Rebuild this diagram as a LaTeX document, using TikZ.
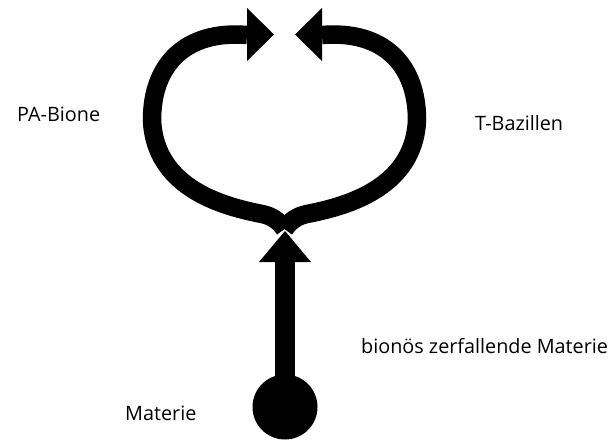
\documentclass[tikz,border=0pt]{standalone}
\usepackage{fontspec}
\setmainfont{Open Sans}
\begin{document}
\begin{tikzpicture}[x=1pt,y=-1pt,
  band/.style={line width=18.5pt, line cap=butt, draw=black},
  shaft/.style={line width=20pt, line cap=butt, draw=black},
  head/.style={fill=black, draw=none},
  lbl/.style={anchor=base west, inner sep=0pt, font=\fontsize{19.8}{22}\selectfont}]
\useasboundingbox (0,0) rectangle (616,440);
% key points
\coordinate (J) at (284.5,229);
\coordinate (LA) at (247,35);
\coordinate (RA) at (322,35);
\coordinate (UB) at (285,262);
% source circle
\node[circle, fill=black, minimum size=65pt, inner sep=0pt] (M) at (285,407) {};
% upward shaft and head
\draw[shaft] (M.center) -- (UB);
\fill[head] (259,262) -- (311,262) -- (285,231) -- cycle;
% left loop
\draw[band] (J) .. controls (279,221) and (272,216) .. (262,214)
  .. controls (227,207) and (155,190) .. (152,120)
  .. controls (152,65) and (185,30) .. (LA);
\fill[head] (247,8) -- (274,34.5) -- (247,61) -- cycle;
% right loop
\draw[band] (J) .. controls (290,221) and (297,216) .. (307,214)
  .. controls (342,207) and (414,190) .. (417,120)
  .. controls (417,65) and (384,30) .. (RA);
\fill[head] (322,8) -- (295,34.5) -- (322,61) -- cycle;
% labels
\node[lbl] (pa) at (17,121.5) {PA-Bione};
\node[lbl] (tb) at (475,130) {T-Bazillen};
\node[lbl] (bz) at (361,353) {bionös zerfallende Materie};
\node[lbl] (ma) at (125,420) {Materie};
\end{tikzpicture}
\end{document}
